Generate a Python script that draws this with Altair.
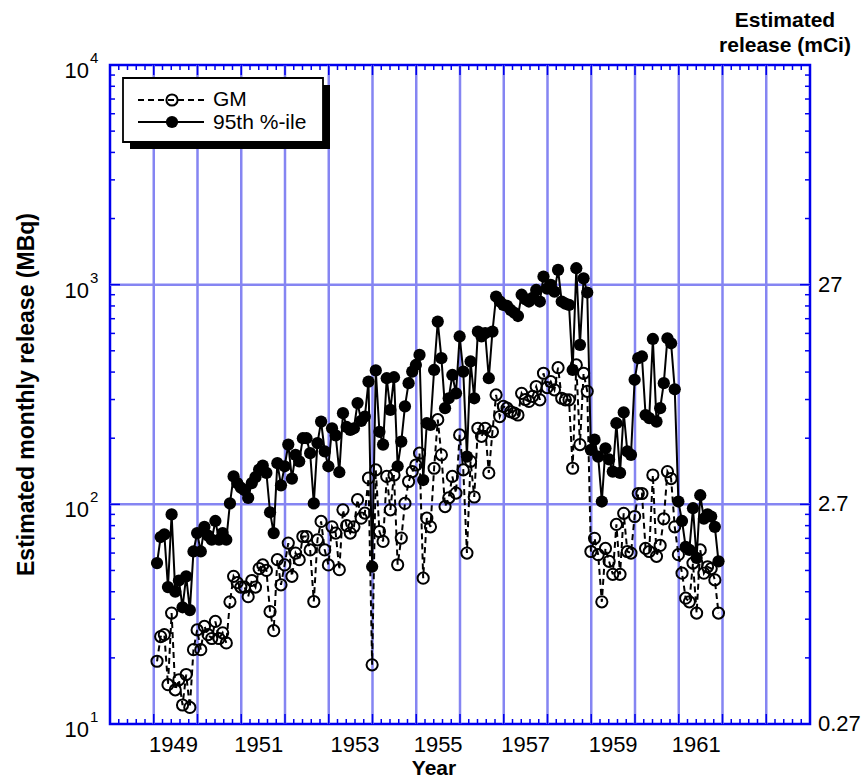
import altair as alt
import pandas as pd

# ---------------- data (monthly, Jan 1949 - Nov 1961) ----------------
start_year = 1949
p95 = [
    54, 71, 73, 42, 90, 40, 45, 34, 47, 33, 61, 74,            # 1949
    61, 79, 72, 69, 84, 69, 74, 69, 101, 134, 125, 119,        # 1950
    116, 107, 125, 133, 144, 150, 139, 92, 74, 154, 122, 149,  # 1951
    187, 131, 168, 157, 200, 200, 171, 101, 190, 238, 174, 149,  # 1952
    222, 206, 140, 260, 225, 218, 222, 289, 240, 251, 362, 52,   # 1953
    407, 214, 187, 375, 269, 379, 149, 193, 279, 356, 402, 431,  # 1954
    479, 129, 234, 230, 409, 679, 463, 274, 304, 388, 320, 581,  # 1955
    402, 165, 447, 304, 611, 581, 601, 375, 611, 883, 840, 809,  # 1956
    800, 767, 745, 720, 900, 860, 838, 870, 946, 838, 1089, 960,  # 1957
    998, 929, 1167, 838, 820, 809, 409, 1188, 532, 1069, 921, 177,  # 1958
    197, 165, 103, 180, 160, 141, 234, 139, 262, 174, 168, 369,  # 1959
    463, 471, 255, 247, 566, 238, 274, 356, 570, 541, 334, 103,  # 1960
    84, 64, 62, 96, 57, 110, 86, 90, 88, 79, 55,                 # 1961
]
gm = [
    19.3, 25, 25.5, 15.1, 32, 14.3, 15.9, 12.2, 16.8, 11.9, 21.8, 26.8,
    21.8, 27.8, 25.5, 24.5, 29.3, 24.5, 26, 23.4, 36, 47, 44, 42,
    42, 38, 45, 42, 51, 53, 50, 32.5, 26.6, 56, 43, 53,
    66.6, 47, 60, 56, 71.4, 71.4, 62, 36.1, 68.9, 83.6, 62, 53,
    79, 74, 50.4, 94.4, 80, 74, 79, 105, 86.5, 91.2, 131.5, 18.6,
    143.5, 75.2, 67.8, 134, 94.4, 136, 53.1, 70.2, 101, 127, 141, 151,
    171, 46.1, 86.5, 79, 146, 243, 168, 97.7, 107, 134, 112.5, 207,
    143.5, 60, 157, 108, 222, 204, 222, 139, 214, 315, 251, 279,
    274, 264, 260, 255, 320, 300, 294, 310, 344, 299, 395, 340,
    362, 332, 419, 304, 299, 299, 146, 431, 187, 395, 327, 61,
    70, 59, 36, 63, 55, 48, 81, 48, 91, 61, 60, 88,
    112, 112, 63, 61, 136, 58, 65, 86, 141, 131, 79, 59,
    48.6, 37.4, 36, 54, 32, 62, 48.6, 52, 51, 45.3, 32,
]

x_label_pos = [1949.45, 1951.4, 1953.6, 1955.5, 1957.5, 1959.5, 1961.4]
x_label_txt = ["1949", "1951", "1953", "1955", "1957", "1959", "1961"]
y_major = [10, 100, 1000, 10000]
y_exponents = ["1", "2", "3", "4"]
right_vals = [10, 100, 1000]
right_labels = ["0.27", "2.7", "27"]
grid_years = list(range(1949, 1964))
x_minor = [1948 + k * 0.2 for k in range(81) if k % 5 != 0]
y_minor = [m * 10 ** e for e in (1, 2, 3) for m in range(2, 10)]

# month index -> fractional year
t = [start_year + (k + 0.9) / 12 for k in range(len(p95))]
df = pd.DataFrame({"t": t, "gm": gm, "p95": p95})

# ---------------- styling ----------------
W, H = 700, 659
FONT = "Liberation Sans"
BLUE = "#0000ee"
GRID = "#8585f2"

xs = alt.Scale(domain=[1948, 1964], nice=False, zero=False)
ys = alt.Scale(type="log", domain=[10, 10000], nice=False)

one = pd.DataFrame({"v": [0]})

# grid
grid_v = alt.Chart(pd.DataFrame({"gx": grid_years})).mark_rule(
    color=GRID, strokeWidth=2.5).encode(
    x=alt.X("gx:Q", scale=xs, axis=None), y=alt.value(0), y2=alt.value(H))
grid_h = alt.Chart(pd.DataFrame({"gy": [100, 1000]})).mark_rule(
    color=GRID, strokeWidth=2.5).encode(
    y=alt.Y("gy:Q", scale=ys, axis=None), x=alt.value(0), x2=alt.value(W))

# inward ticks
def xticks(vals, length, top):
    d = pd.DataFrame({"tx": vals})
    y0, y1 = (0, length) if top else (H, H - length)
    return alt.Chart(d).mark_rule(color=BLUE, strokeWidth=1.5).encode(
        x=alt.X("tx:Q", scale=xs, axis=None), y=alt.value(y0), y2=alt.value(y1))

def yticks(vals, length, right):
    d = pd.DataFrame({"ty": vals})
    x0, x1 = (W, W - length) if right else (0, length)
    return alt.Chart(d).mark_rule(color=BLUE, strokeWidth=1.5).encode(
        y=alt.Y("ty:Q", scale=ys, axis=None), x=alt.value(x0), x2=alt.value(x1))

tick_layers = [
    xticks(grid_years, 10, False), xticks(grid_years, 10, True),
    xticks(x_minor, 5, False), xticks(x_minor, 5, True),
    yticks(y_major, 10, False), yticks(y_major, 10, True),
    yticks(y_minor, 5, False), yticks(y_minor, 5, True),
]

# data
base = alt.Chart(df)
X = alt.X("t:Q", scale=xs, axis=None)
line95 = base.mark_line(color="black", strokeWidth=2).encode(
    x=X, y=alt.Y("p95:Q", scale=ys, axis=None))
pts95 = base.mark_circle(color="black", size=150, opacity=1).encode(
    x=X, y=alt.Y("p95:Q", scale=ys, axis=None))
linegm = base.mark_line(color="black", strokeWidth=2, strokeDash=[6, 4]).encode(
    x=X, y=alt.Y("gm:Q", scale=ys, axis=None))
ptsgm = base.mark_point(shape="circle", filled=False, color="black",
                        strokeWidth=2, size=125, opacity=1).encode(
    x=X, y=alt.Y("gm:Q", scale=ys, axis=None))

# axis labels (text through the scales)
xlab = alt.Chart(pd.DataFrame({"lx": x_label_pos, "lt": x_label_txt})).mark_text(
    font=FONT, fontSize=22, align="center", baseline="middle", color="black").encode(
    x=alt.X("lx:Q", scale=xs, axis=None), y=alt.value(H + 21), text="lt:N")
ylab = alt.Chart(pd.DataFrame({"ly": y_major})).mark_text(
    font=FONT, fontSize=22, align="right", baseline="middle", dy=6, color="black").encode(
    y=alt.Y("ly:Q", scale=ys, axis=None), x=alt.value(-21), text=alt.value("10"))
expo = alt.Chart(pd.DataFrame({"ey": y_major, "et": y_exponents})).mark_text(
    font=FONT, fontSize=15, align="left", baseline="middle", dy=-7, color="black").encode(
    y=alt.Y("ey:Q", scale=ys, axis=None), x=alt.value(-20), text="et:N")
right = alt.Chart(pd.DataFrame({"ry": right_vals, "rt": right_labels})).mark_text(
    font=FONT, fontSize=22, align="left", baseline="middle", color="black").encode(
    y=alt.Y("ry:Q", scale=ys, axis=None), x=alt.value(W + 8), text="rt:N")

# titles
x_title = alt.Chart(one).mark_text(
    font=FONT, fontSize=21, fontWeight="bold", align="center", baseline="alphabetic",
    color="black").encode(x=alt.value(324), y=alt.value(H + 51), text=alt.value("Year"))
y_title = alt.Chart(one).mark_text(
    font=FONT, fontSize=23, fontWeight="bold", align="center", baseline="middle",
    angle=270, color="black").encode(
    x=alt.value(-83), y=alt.value(H / 2), text=alt.value("Estimated monthly release (MBq)"))
right_title = alt.Chart(one).mark_text(
    font=FONT, fontSize=21, fontWeight="bold", align="center", baseline="top",
    lineBreak="\n", lineHeight=25, color="black").encode(
    x=alt.value(W - 25), y=alt.value(-55), text=alt.value("Estimated\nrelease (mCi)"))

# legend
shadow = alt.Chart(one).mark_rect(color="black").encode(
    x=alt.value(20), x2=alt.value(220), y=alt.value(20), y2=alt.value(84))
box = alt.Chart(one).mark_rect(fill="white", stroke="black", strokeWidth=1.8).encode(
    x=alt.value(13), x2=alt.value(213), y=alt.value(13), y2=alt.value(77))
leg_gm_line = alt.Chart(one).mark_rule(color="black", strokeWidth=2, strokeDash=[6, 4]).encode(
    x=alt.value(28), x2=alt.value(94), y=alt.value(35))
leg_gm_pt = alt.Chart(one).mark_point(shape="circle", filled=False, color="black",
                                      strokeWidth=2, size=125, opacity=1).encode(
    x=alt.value(62), y=alt.value(35))
leg_gm_txt = alt.Chart(one).mark_text(font=FONT, fontSize=21, align="left",
                                      baseline="middle", color="black").encode(
    x=alt.value(103), y=alt.value(35), text=alt.value("GM"))
leg_95_line = alt.Chart(one).mark_rule(color="black", strokeWidth=2).encode(
    x=alt.value(28), x2=alt.value(94), y=alt.value(57))
leg_95_pt = alt.Chart(one).mark_circle(color="black", size=150, opacity=1).encode(
    x=alt.value(62), y=alt.value(57))
leg_95_txt = alt.Chart(one).mark_text(font=FONT, fontSize=21, align="left",
                                      baseline="middle", color="black").encode(
    x=alt.value(103), y=alt.value(58), text=alt.value("95th %-ile"))

chart = alt.layer(
    grid_v, grid_h, *tick_layers,
    line95, pts95, linegm, ptsgm,
    xlab, ylab, expo, right, x_title, y_title, right_title,
    shadow, box, leg_gm_line, leg_gm_pt, leg_gm_txt, leg_95_line, leg_95_pt, leg_95_txt,
).properties(
    width=W, height=H,
    padding={"left": 110, "top": 65, "right": 54, "bottom": 54},
    autosize=alt.AutoSizeParams(type="none"),
    background="white",
).configure_view(stroke=BLUE, strokeWidth=2.5)

chart.save("out.html", embed_options={"renderer": "svg", "actions": False})
